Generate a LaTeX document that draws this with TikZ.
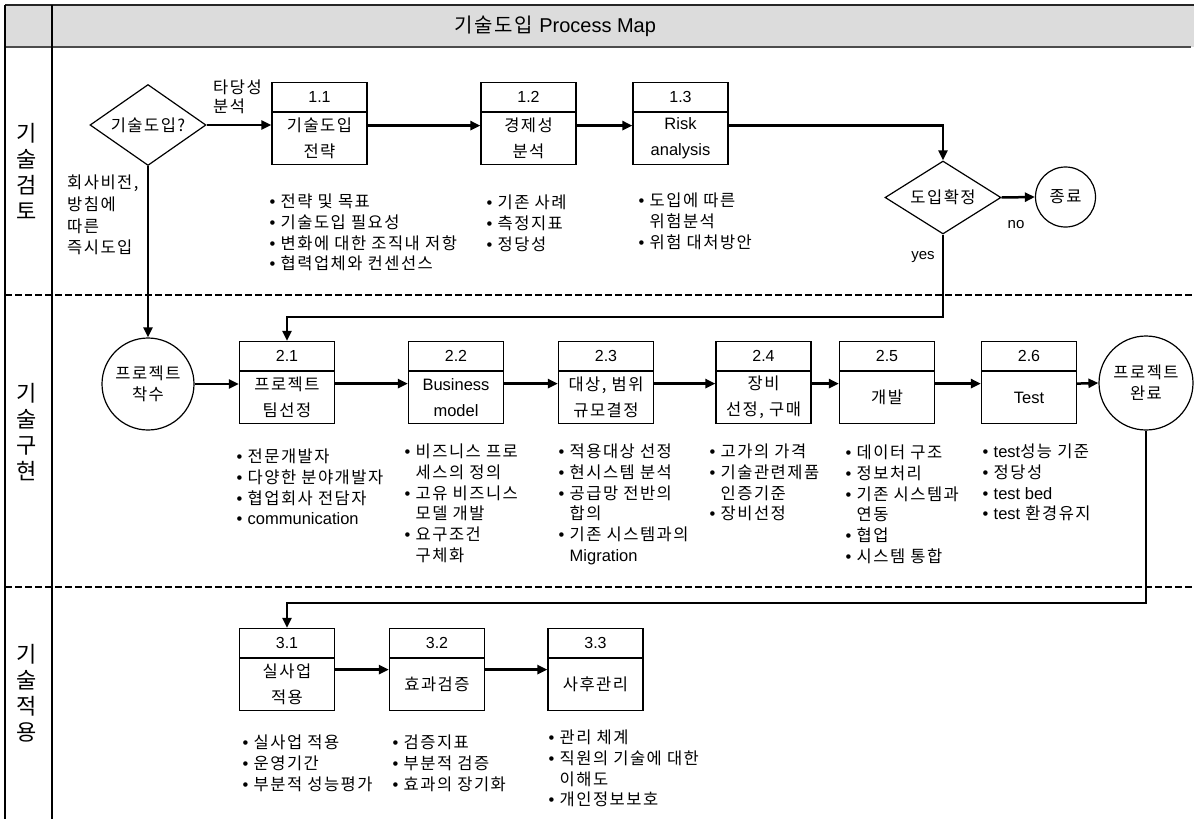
\documentclass[tikz,border=0pt]{standalone}
\usepackage{fontspec}
\setmainfont{Noto Sans CJK KR}[LetterSpace=9]
\newfontfamily\lat{Liberation Sans}
\usetikzlibrary{shapes.geometric,arrows.meta}

\definecolor{headgray}{HTML}{DCDCDC}
\newcommand\bodyfnt{\fontsize{16.5}{26}\selectfont}
\newcommand\listfnt{\fontsize{16.5}{20.7}\selectfont}
\newcommand\lanefnt{\fontsize{22}{26}\selectfont}
\newcommand\titlefnt{\fontsize{20}{22}\selectfont}
\newcommand\bul{\makebox[11pt][l]{\lat •}}
\newcommand\cont{\hspace*{11pt}}

\tikzset{
  numbox/.style={draw, line width=1.2pt, minimum width=95pt, minimum height=29pt, inner sep=0pt, font=\lat\fontsize{16}{18}\selectfont},
  taskbox/.style={draw, line width=1.2pt, minimum width=95pt, minimum height=52pt, inner sep=0pt, align=center, font=\bodyfnt},
  decision/.style={diamond, draw, line width=1.2pt, inner sep=0pt, aspect=1.5, font=\bodyfnt},
  terminal/.style={circle, draw, line width=1.2pt, inner sep=0pt, align=center, font=\fontsize{16.5}{21}\selectfont},
  listnode/.style={anchor=north west, inner sep=0pt, align=left, font=\listfnt},
  lane/.style={inner sep=0pt, align=center, font=\lanefnt},
  flow/.style={line width=2.5pt, -{Triangle[length=10pt,width=9pt]}},
  laneline/.style={line width=2pt, dash pattern=on 7pt off 3pt},
}

\begin{document}
\begin{tikzpicture}[x=1pt,y=-1pt]
  \useasboundingbox (0,0) rectangle (1194,819);
  \clip (0,0) rectangle (1194,819);

  % frame and header
  \fill[headgray] (5,5) rectangle (1200,47);
  \draw[line width=1.5pt, black!85] (5,5) -- (1200,5);
  \draw[line width=2pt, black!70] (5,47) -- (1191,47);
  \draw[line width=1.5pt] (5,5) -- (5,830);
  \draw[line width=1.3pt] (52,5) -- (52,830);
  \draw[laneline] (5,295) -- (1200,295);
  \draw[laneline] (5,587) -- (1200,587);
  \node[font=\titlefnt] (title) at (555,26) {기술도입 {\lat Process Map}};

  % lanes
  \node[lane] (lane1) at (27,171) {기\\술\\검\\토};
  \node[lane] (lane2) at (27,432) {기\\술\\구\\현};
  \node[lane] (lane3) at (27,693) {기\\술\\적\\용};

  % 기술검토
  \node[decision, minimum width=116pt, minimum height=81pt] (d1) at (148,125) {기술도입?};
  \node[numbox, anchor=south] (p11h) at (319.5,112) {1.1};
  \node[taskbox, anchor=north] (p11) at (319.5,112) {기술도입\\전략};
  \node[numbox, anchor=south] (p12h) at (528.5,112) {1.2};
  \node[taskbox, anchor=north] (p12) at (528.5,112) {경제성\\분석};
  \node[numbox, anchor=south] (p13h) at (680.5,112) {1.3};
  \node[taskbox, anchor=north, font=\lat\bodyfnt] (p13) at (680.5,112) {Risk\\analysis};
  \node[decision, aspect=1.6, minimum width=116pt, minimum height=73pt] (d2) at (943,197.5) {도입확정};
  \node[terminal, minimum size=60pt] (end) at (1065.5,197) {종료};

  \node[listnode, font=\fontsize{16.5}{19}\selectfont] (why) at (213,80) {타당성\\분석};
  \node[listnode, font=\fontsize{16.5}{21.7}\selectfont] (now) at (67,175) {회사비전,\\방침에\\따른\\즉시도입};
  \node[font=\lat\fontsize{15}{18}\selectfont] (no) at (1016,225) {no};
  \node[font=\lat\fontsize{15}{18}\selectfont] (yes) at (923,257) {yes};

  \node[listnode] (l11) at (269.5,194) {\bul 전략 및 목표\\\bul 기술도입 필요성\\\bul 변화에 대한 조직내 저항\\\bul 협력업체와 컨센선스};
  \node[listnode] (l12) at (486.5,195) {\bul 기존 사례\\\bul 측정지표\\\bul 정당성};
  \node[listnode] (l13) at (638.5,193) {\bul 도입에 따른\\\cont 위험분석\\\bul 위험 대처방안};

  % 기술구현
  \node[terminal, minimum size=92pt] (start) at (148,384) {프로젝트\\착수};
  \node[numbox, anchor=south] (p21h) at (287,371) {2.1};
  \node[taskbox, anchor=north] (p21) at (287,371) {프로젝트\\팀선정};
  \node[numbox, anchor=south] (p22h) at (456,371) {2.2};
  \node[taskbox, anchor=north, font=\lat\bodyfnt] (p22) at (456,371) {Business\\model};
  \node[numbox, anchor=south] (p23h) at (606,371) {2.3};
  \node[taskbox, anchor=north] (p23) at (606,371) {대상, 범위\\규모결정};
  \node[numbox, anchor=south] (p24h) at (763.5,371) {2.4};
  \node[taskbox, anchor=north] (p24) at (763.5,371) {장비\\선정, 구매};
  \node[numbox, anchor=south] (p25h) at (887,371) {2.5};
  \node[taskbox, anchor=north] (p25) at (887,371) {개발};
  \node[numbox, anchor=south] (p26h) at (1029,371) {2.6};
  \node[taskbox, anchor=north, font=\lat\bodyfnt] (p26) at (1029,371) {Test};
  \node[terminal, minimum size=94pt] (done) at (1146,383) {프로젝트\\완료};

  \node[listnode] (l21) at (236.5,449) {\bul 전문개발자\\\bul 다양한 분야개발자\\\bul 협업회사 전담자\\\bul {\lat communication}};
  \node[listnode] (l22) at (404.5,444) {\bul 비즈니스 프로\\\cont 세스의 정의\\\bul 고유 비즈니스\\\cont 모델 개발\\\bul 요구조건\\\cont 구체화};
  \node[listnode] (l23) at (558.5,444) {\bul 적용대상 선정\\\bul 현시스템 분석\\\bul 공급망 전반의\\\cont 합의\\\bul 기존 시스템과의\\\cont {\lat Migration}};
  \node[listnode] (l24) at (709.5,444) {\bul 고가의 가격\\\bul 기술관련제품\\\cont 인증기준\\\bul 장비선정};
  \node[listnode] (l25) at (845.5,445) {\bul 데이터 구조\\\bul 정보처리\\\bul 기존 시스템과\\\cont 연동\\\bul 협업\\\bul 시스템 통합};
  \node[listnode] (l26) at (982.5,444) {\bul {\lat test}성능 기준\\\bul 정당성\\\bul {\lat test bed}\\\bul {\lat test} 환경유지};

  % 기술적용
  \node[numbox, anchor=south] (p31h) at (287,658) {3.1};
  \node[taskbox, anchor=north] (p31) at (287,658) {실사업\\적용};
  \node[numbox, anchor=south] (p32h) at (437,658) {3.2};
  \node[taskbox, anchor=north] (p32) at (437,658) {효과검증};
  \node[numbox, anchor=south] (p33h) at (595.5,658) {3.3};
  \node[taskbox, anchor=north] (p33) at (595.5,658) {사후관리};

  \node[listnode] (l31) at (242.5,735) {\bul 실사업 적용\\\bul 운영기간\\\bul 부분적 성능평가};
  \node[listnode] (l32) at (392.5,735) {\bul 검증지표\\\bul 부분적 검증\\\bul 효과의 장기화};
  \node[listnode] (l33) at (548.5,730) {\bul 관리 체계\\\bul 직원의 기술에 대한\\\cont 이해도\\\bul 개인정보보호};

  % connectors
  \draw[flow] (d1.east) -- (d1.east -| p11.west);
  \draw[flow] ([yshift=13pt]p11.east) -- ([yshift=13pt]p12.west);
  \draw[flow] ([yshift=13pt]p12.east) -- ([yshift=13pt]p13.west);
  \draw[flow] ([yshift=13pt]p13.east) -| (d2.north);
  \draw[flow] (d2.east) -- (end.west);
  \draw[flow] (d1.south) -- (start.north);
  \draw[flow] (d2.south) |- ([yshift=24pt]p21h.north) -- (p21h.north);

  \draw[flow] (start.east) -- (start.east -| p21.west);
  \draw[flow] ([yshift=14pt]p21.east) -- ([yshift=14pt]p22.west);
  \draw[flow] ([yshift=14pt]p22.east) -- ([yshift=14pt]p23.west);
  \draw[flow] ([yshift=14pt]p23.east) -- ([yshift=14pt]p24.west);
  \draw[flow] ([yshift=14pt]p24.east) -- ([yshift=14pt]p25.west);
  \draw[flow] ([yshift=14pt]p25.east) -- ([yshift=14pt]p26.west);
  \draw[flow] ([yshift=14pt]p26.east) -- (done.west);
  \draw[flow] (done.south) |- ([yshift=25pt]p31h.north) -- (p31h.north);

  \draw[flow] ([yshift=15pt]p31.east) -- ([yshift=15pt]p32.west);
  \draw[flow] ([yshift=15pt]p32.east) -- ([yshift=15pt]p33.west);
\end{tikzpicture}
\end{document}
